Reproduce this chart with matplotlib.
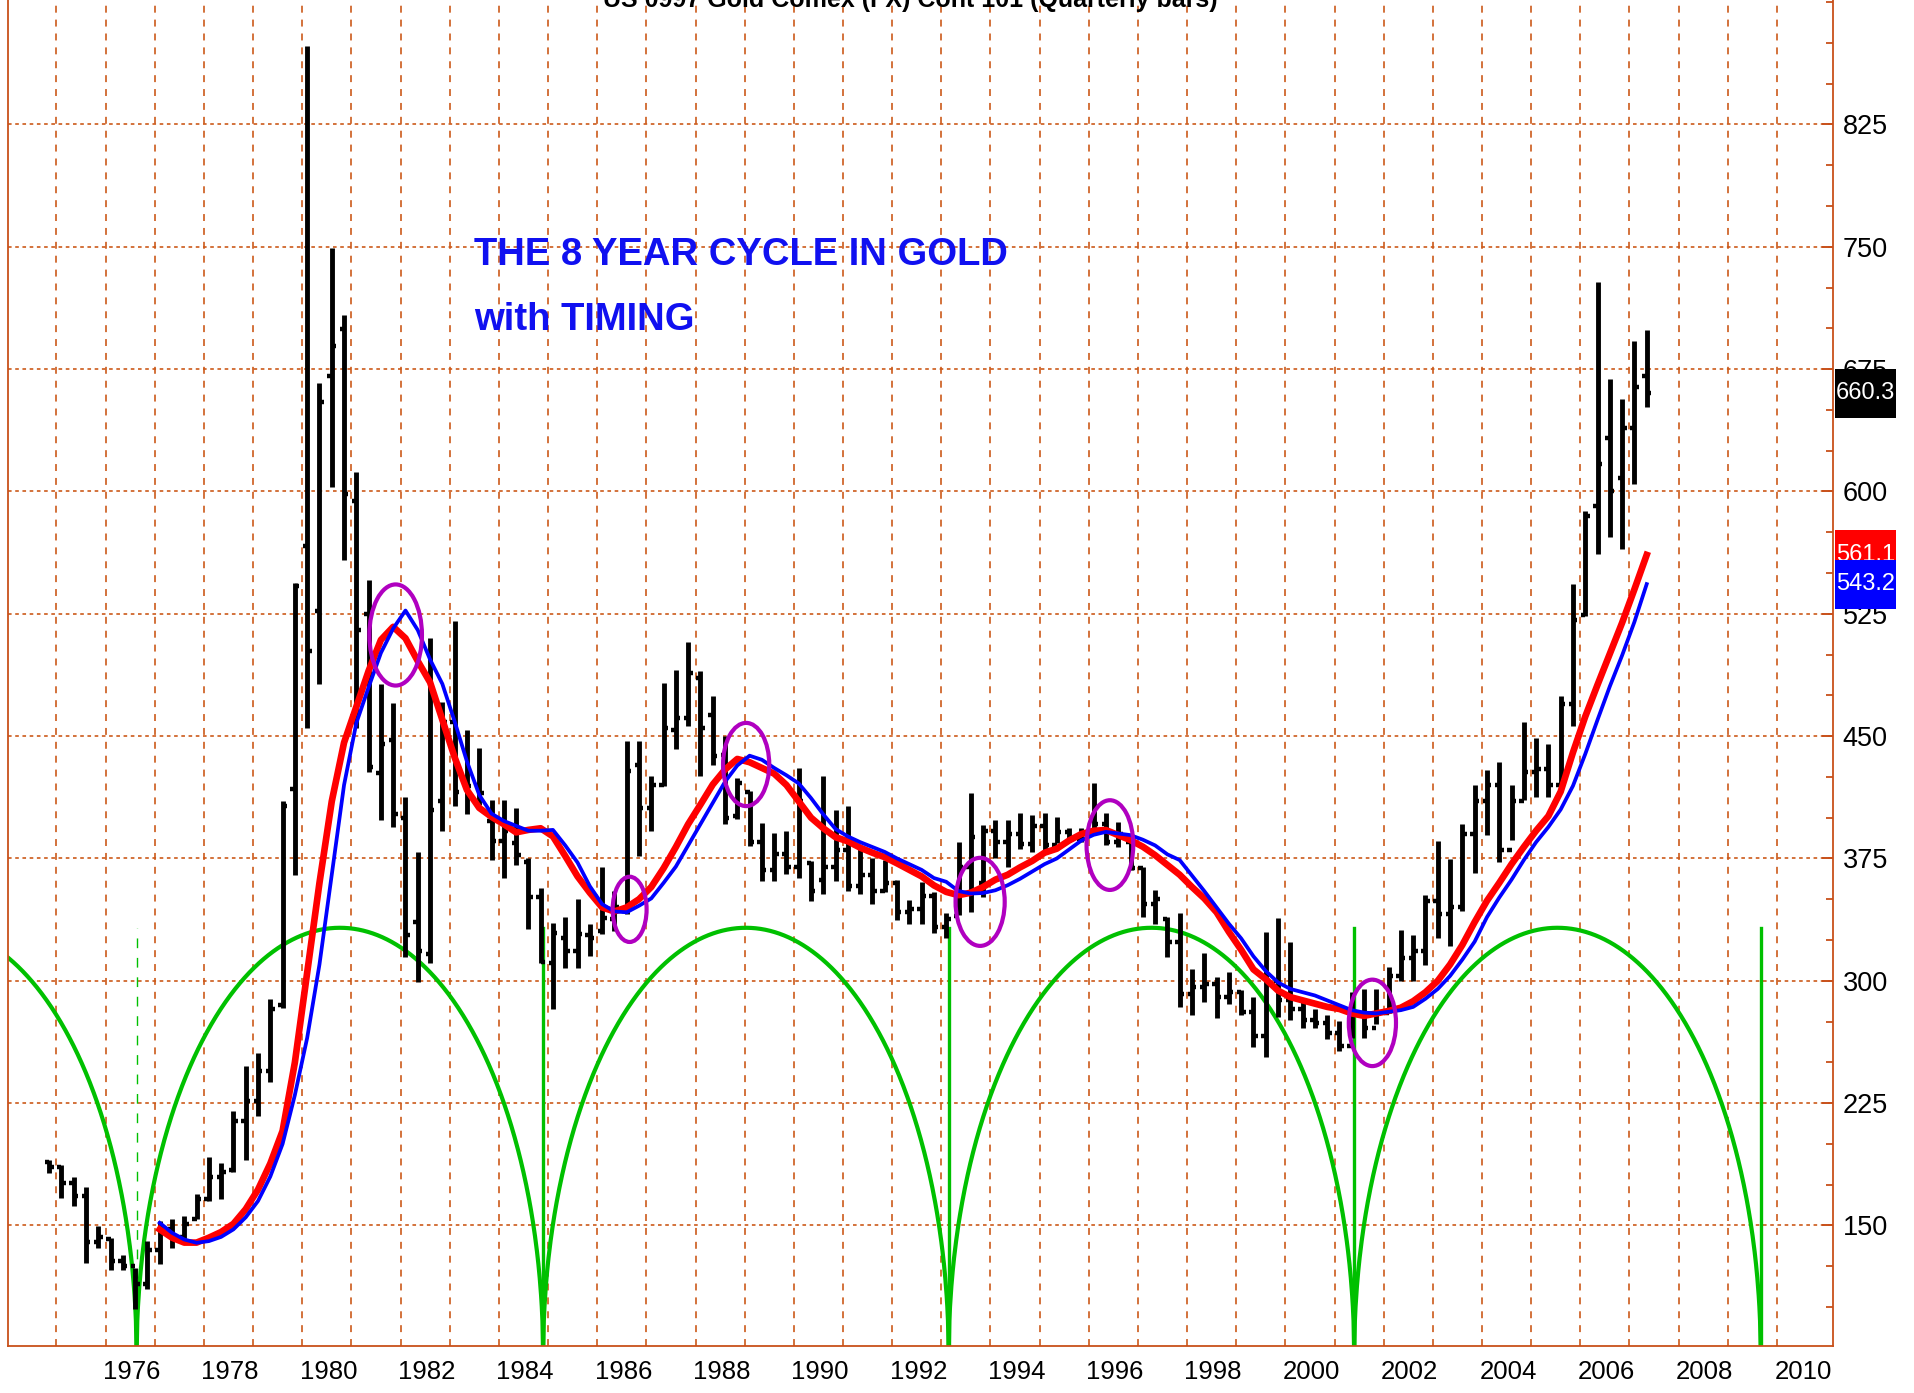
import numpy as np
import matplotlib
matplotlib.use("Agg")
import matplotlib.pyplot as plt
from matplotlib import font_manager, transforms
from matplotlib.patches import Ellipse, Rectangle
from matplotlib.ticker import MultipleLocator, FixedLocator

avail = {f.name for f in font_manager.fontManager.ttflist}
IS_NARROW = "Liberation Sans Narrow" in avail
NARROW = "Liberation Sans Narrow" if IS_NARROW else "Liberation Sans"
plt.rcParams["font.family"] = [NARROW, "DejaVu Sans"]
plt.rcParams["lines.scale_dashes"] = False

# font sizes (narrow face lets the text be taller at the same width)
TICK_FS = 22 if IS_NARROW else 19.5
YEAR_FS = 22 if IS_NARROW else 18.5
BOX_FS = 21.5 if IS_NARROW else 17
NOTE_FS = 34 if IS_NARROW else 27.5
TITLE_FS = 21 if IS_NARROW else 18

# ---------------- data ----------------
title_text = "US 0997 Gold Comex (FX) Cont 101 (Quarterly bars)"
note_line1 = "THE 8 YEAR CYCLE IN GOLD"
note_line2 = "with TIMING"

first_bar_x = 1974.32     # chart position of first quarterly bar
bar_step = 0.25

highs = [190.4, 187.3, 179.5, 173.4, 149.6, 142.5, 131.9, 124.1, 140.4, 152.7,
         153.7, 155.7, 169.0, 191.8, 188.3, 220, 248, 256, 289, 410,
         544, 873, 666.7, 749.5, 708.3, 612.2, 546, 482, 470.2, 412.7,
         378.8, 510, 471, 520.8, 453.9, 443, 411, 411, 406, 375,
         356.6, 335.7, 339.2, 350, 334.7, 369.8, 355, 446.9, 446.9, 425.4,
         482.6, 490.7, 508, 489.7, 474.4, 450, 424.4, 416.3, 396.9, 390.8,
         391.8, 430.5, 373.4, 425.4, 405, 407, 381.6, 375.5, 374, 361.7,
         349.4, 360.7, 354.6, 341.3, 385.2, 414.9, 395.4, 398.5, 398.5, 402.6,
         401.6, 402.6, 400.5, 393.4, 393.4, 421, 402.6, 397.5, 385.2, 369.9,
         355.6, 339.2, 341.7, 307.5, 317.2, 302.4, 305.5, 294.3, 290.2, 330,
         338.2, 323.9, 288.1, 283, 278.9, 275.2, 293.4, 295, 295, 308.3,
         331.4, 328.1, 352.3, 385.4, 374.5, 396, 419.8, 429.1, 434, 419.8,
         458.9, 448.9, 445, 474.8, 543.3, 588, 728.6, 669, 656.8, 692.2,
         698.8]
lows = [182.2, 167.0, 161.8, 127.2, 136.3, 123.0, 123.0, 98.6, 110.9, 126.2,
        136.3, 140.4, 153.7, 164.9, 166.0, 183, 190, 217, 238, 283.5,
        365, 455, 482, 603, 557.8, 454.7, 428.2, 398.3, 394.4, 314.6,
        299, 310.7, 391.7, 407.2, 402, 408, 373.8, 363.3, 371, 332,
        310.7, 282.6, 308, 308, 315.3, 328.5, 330.6, 340.8, 376.5, 391.8,
        419.3, 441.8, 456, 425.4, 432.6, 395.9, 399, 382.6, 361.2, 361.2,
        365.3, 363.2, 349, 353, 361.2, 355, 353, 346.9, 354.6, 337.2,
        335.1, 335.1, 329, 326, 340.3, 342.3, 351.5, 375, 369.9, 381.1,
        379.1, 379.1, 384.2, 385.2, 385.2, 391.4, 383.2, 382.2, 367.8, 339.2,
        335.1, 314.7, 284, 278.9, 287.1, 276.9, 286, 278.9, 259.5, 253.4,
        277.9, 275.9, 270.8, 270.8, 264.6, 257, 265.2, 265.2, 273.5, 280.1,
        300, 300, 309.9, 326.5, 321.5, 343, 366.2, 389.4, 372.8, 386.1,
        410.9, 412.5, 412.5, 417.5, 456.2, 523.4, 561.5, 572, 564.8, 604.5,
        651.5]
opens = [189, 186, 176, 168, 140, 142, 128, 125, 114, 135,
         148, 143, 154, 166, 180, 184, 214, 226, 245, 285,
         417.7, 566.7, 526.6, 671, 699.7, 594, 524.7, 427.4, 447.7, 400,
         336, 316.6, 410, 458.6, 423.5, 420, 398, 386, 384.6, 373,
         351.6, 311, 326.5, 318, 328, 330.6, 338, 342.8, 432.6, 406,
         420, 454, 461, 485.6, 463, 438.7, 401, 416, 385, 368,
         378, 370, 372, 362, 370, 380, 358, 365, 355, 360,
         342, 344, 352, 333, 340, 370, 360, 392, 385, 390,
         384, 395, 383, 391, 387, 391, 396, 385, 385, 369,
         347, 338, 324, 292, 296, 298, 290, 293, 281, 266,
         300, 288, 283, 276, 274, 268, 260, 280, 271, 280,
         303, 314, 318, 349, 341, 345, 390, 410, 420, 380,
         410, 428, 430, 420, 470, 524, 591, 633, 608, 639,
         670.7]
closes = [186, 176, 168, 140, 143, 128, 125, 114, 135, 148,
          143, 151, 166, 180, 183, 214, 226, 245, 283, 407,
          542, 502, 655, 689, 598.6, 515, 431, 445, 402.2, 328,
          318.5, 405, 458.6, 415.8, 419.7, 415, 386, 392, 377, 351.6,
          311.5, 329.6, 318.3, 328.5, 326, 338.7, 345, 428.5, 406, 420,
          455, 461, 488.7, 455, 437.7, 400, 421, 385, 368, 378,
          370, 410, 355, 370, 380, 358, 365, 355, 360, 342,
          344, 352, 333, 338, 370, 388, 392, 385, 390, 384,
          395, 383, 391, 387, 390, 396, 385, 390, 369, 347,
          350, 324, 292, 296, 298, 290, 293, 281, 266, 300,
          288, 283, 276, 274, 268, 260, 280, 271, 280, 303,
          314, 318, 349, 341, 345, 390, 410, 420, 380, 410,
          428, 430, 420, 470, 521, 585, 617, 600, 639, 664,
          660.3]

ma_start_idx = 9
red_ma = [147.6, 142.5, 139.5, 139.5, 142.5, 146, 151, 160, 172, 188,
          208, 250, 305, 360, 410, 446, 468, 490, 509, 517,
          510, 496, 483, 460, 437, 417, 406, 400.5, 396, 391,
          392.5, 393.5, 388.5, 376.5, 364, 354, 345, 342.5, 345, 350,
          357.5, 369, 382, 396, 408, 420.3, 429.5, 436, 434, 430.5,
          427, 420, 410, 400, 393.5, 388, 385.5, 381.6, 378.5, 375.8,
          372, 368, 364, 358.5, 354.5, 352.5, 354, 357.5, 362, 365,
          369.5, 373.5, 378.5, 381, 386, 390, 392, 392.4, 389.3, 386.2,
          382.2, 377, 371, 365, 357.5, 350.5, 342, 330, 319, 307,
          301, 294, 290, 288, 286, 284, 282.7, 280, 278.5, 280,
          281.5, 283.5, 287.5, 293, 300, 310, 322, 336, 349, 360,
          371.5, 382, 392, 401, 416, 440, 462, 481.5, 500.5, 519.5,
          540, 561.1]
blue_ma = [151.6, 145.5, 141.4, 139.4, 140.4, 143, 147.6, 155, 165, 180,
           200, 230, 265, 310, 365, 420, 458, 480, 501, 516,
           527, 515, 497, 482, 459, 434.5, 414, 402.5, 398, 395,
           392, 392, 392.5, 383, 372.5, 358, 347, 342.5, 342, 346,
           350.5, 360, 370, 383, 396, 409, 422, 432, 438, 435.5,
           430.5, 426, 421, 412, 402, 393, 388.5, 385, 382, 379,
           375, 371.5, 368, 363, 360.7, 355, 353.5, 353.8, 355.5, 358.6,
           362.5, 367, 371.5, 375, 380.5, 386, 389.5, 391.3, 390.3, 389.3,
           386.5, 383, 377.5, 374, 364.5, 355, 345, 335, 326, 315,
           306, 299, 295, 293, 291, 288, 285, 282, 280.5, 280,
           281, 282, 284, 289, 295, 303, 313, 324, 339, 351,
           362, 374, 385, 394.3, 405, 419.5, 439, 460, 480.5, 499.5,
           520, 543.2]

cycle_lows = [1967.84, 1976.10, 1984.37, 1992.62, 2000.87, 2009.14]
cycle_peak = 332.5
cycle_base = 70.0

circle_x = [1981.37, 1986.13, 1988.50, 1993.26, 1995.90, 2001.24]
circle_y = [512.0, 343.8, 432.6, 348.4, 383.2, 274.2]
circle_w = [1.07, 0.69, 0.94, 1.00, 0.95, 0.96]
circle_h = [62, 40, 51, 54, 55, 53]

year_labels = list(range(1976, 2011, 2))
price_ticks = [150, 225, 300, 375, 450, 525, 600, 675, 750, 825]
last_values = [("561.1", 561.1, "#ff0000"), ("543.2", 543.2, "#0000ff"), ("660.3", 660.3, "#000000")]

# ---------------- figure ----------------
W, H = 1914, 1393
fig = plt.figure(figsize=(W / 100, H / 100), dpi=100)
fig.patch.set_facecolor("white")
left_px, right_px, bottom_px = 8.3, 1833, 1346
ax = fig.add_axes([left_px / W, 1 - bottom_px / H, (right_px - left_px) / W, bottom_px / H])
ax.set_xlim(1973.49, 2010.61)
ax.set_ylim(76.1, 901.3)

grid_c = "#cc5a1a"
spine_c = "#c8501a"

for y in range(1974, 2010):
    ax.axvline(y + 0.47, color=grid_c, lw=1.2, ls=(0, (5, 5)), zorder=0)
for v in price_ticks:
    ax.axhline(v, color=grid_c, lw=1.2, ls=(0, (2.6, 2.6)), zorder=0)

# cycle arcs
green = "#00c000"
for a, b in zip(cycle_lows[:-1], cycle_lows[1:]):
    xs = np.linspace(a, b, 600)
    f = (xs - a) / (b - a)
    ys = cycle_base + (cycle_peak - cycle_base) * np.sqrt(np.clip(1 - (2 * f - 1) ** 2, 0, None))
    ax.plot(xs, ys, color=green, lw=3.0, zorder=2, solid_capstyle="butt")
for k, lx in enumerate(cycle_lows):
    if lx == 1976.10:
        ax.plot([lx, lx], [cycle_base, cycle_peak], color=green, lw=1.0, ls=(0, (7, 7)), zorder=2)
    else:
        ax.plot([lx, lx], [cycle_base, cycle_peak], color=green, lw=2.4, zorder=2)

# quarterly bars
n = len(highs)
xs = first_bar_x + bar_step * np.arange(n)
tick = 0.09
ax.vlines(xs, lows, highs, color="black", lw=3.5, zorder=3)
ax.hlines(opens, xs - tick, xs, color="black", lw=3.2, zorder=3)
ax.hlines(closes, xs, xs + tick, color="black", lw=3.2, zorder=3)

# moving averages
ma_x = first_bar_x + bar_step * np.arange(ma_start_idx, ma_start_idx + len(red_ma))
ax.plot(ma_x, red_ma, color="#ff0000", lw=4.8, zorder=4, solid_joinstyle="round")
ax.plot(ma_x, blue_ma, color="#0000ff", lw=2.7, zorder=5, solid_joinstyle="round")

# timing circles
for cx, cy, cw, ch in zip(circle_x, circle_y, circle_w, circle_h):
    ax.add_patch(Ellipse((cx, cy), cw, ch, fill=False, edgecolor="#b000c0", lw=3.0, zorder=6))

# annotation
ax.text(1982.96, 738.9, note_line1, color="#1010f0", fontsize=NOTE_FS, fontweight="bold",
        va="baseline", ha="left", zorder=7)
ax.text(1982.96, 699.0, note_line2, color="#1010f0", fontsize=NOTE_FS, fontweight="bold",
        va="baseline", ha="left", zorder=7)

# axes styling
for s in ["left", "bottom", "right"]:
    ax.spines[s].set_color(spine_c)
    ax.spines[s].set_linewidth(1.3)
ax.spines["top"].set_visible(False)

ax.yaxis.tick_right()
ax.yaxis.set_major_locator(FixedLocator(price_ticks))
ax.yaxis.set_minor_locator(MultipleLocator(25))
ax.set_yticklabels([str(v) for v in price_ticks])
ax.tick_params(axis="y", which="major", direction="in", length=8, width=1.4, color=spine_c,
               labelsize=TICK_FS, pad=7, labelcolor="black")
ax.tick_params(axis="y", which="minor", direction="in", length=5, width=1.3, color=spine_c)

ax.xaxis.set_major_locator(FixedLocator(year_labels))
ax.set_xticklabels([str(y) for y in year_labels])
ax.tick_params(axis="x", which="both", length=0, labelsize=YEAR_FS, pad=10, labelcolor="black")

# last-value boxes on the right
blend = transforms.blended_transform_factory(fig.transFigure, ax.transData)
z = 10
for label, val, col in last_values:
    rect = Rectangle((1835 / W, val - 15), 61 / W, 30, transform=blend, facecolor=col,
                     edgecolor="none", clip_on=False, zorder=z)
    fig.add_artist(rect)
    fig.text(1836 / W, val, label, transform=blend, color="white", fontsize=BOX_FS,
             va="center", ha="left", zorder=z + 1)
    z += 2

# title (mostly cut off at the top, as in the source)
fig.text(910 / W, 1 - 7 / H, title_text, ha="center", va="baseline", fontsize=TITLE_FS,
         fontweight="bold", color="black")

fig.savefig("out.png", dpi=100)
